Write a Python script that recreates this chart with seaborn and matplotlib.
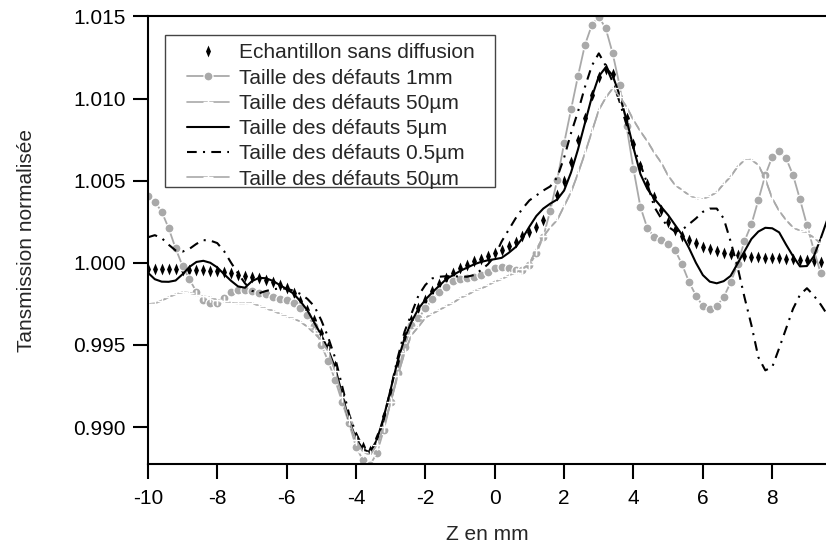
import matplotlib
matplotlib.use("Agg")
import matplotlib.pyplot as plt
from matplotlib.patches import Rectangle
import seaborn as sns

# scan positions (mm), 0.2 mm step
z_mm = [
    -10.0, -9.8, -9.6, -9.4, -9.2, -9.0, -8.8, -8.6, -8.4, -8.2,
    -8.0, -7.8, -7.6, -7.4, -7.2, -7.0, -6.8, -6.6, -6.4, -6.2,
    -6.0, -5.8, -5.6, -5.4, -5.2, -5.0, -4.8, -4.6, -4.4, -4.2,
    -4.0, -3.8, -3.6, -3.4, -3.2, -3.0, -2.8, -2.6, -2.4, -2.2,
    -2.0, -1.8, -1.6, -1.4, -1.2, -1.0, -0.8, -0.6, -0.4, -0.2,
    0.0, 0.2, 0.4, 0.6, 0.8, 1.0, 1.2, 1.4, 1.6, 1.8,
    2.0, 2.2, 2.4, 2.6, 2.8, 3.0, 3.2, 3.4, 3.6, 3.8,
    4.0, 4.2, 4.4, 4.6, 4.8, 5.0, 5.2, 5.4, 5.6, 5.8,
    6.0, 6.2, 6.4, 6.6, 6.8, 7.0, 7.2, 7.4, 7.6, 7.8,
    8.0, 8.2, 8.4, 8.6, 8.8, 9.0, 9.2, 9.4,
]
z_mm_lines = z_mm + [9.6]

sans_diffusion = [
    0.99960, 0.99960, 0.99960, 0.99960, 0.99960, 0.99959, 0.99958, 0.99957, 0.99955, 0.99952,
    0.99948, 0.99943, 0.99935, 0.99926, 0.99920, 0.99915, 0.99905, 0.99895, 0.99883, 0.99867,
    0.99848, 0.99815, 0.99768, 0.99710, 0.99650, 0.99575, 0.99490, 0.99370, 0.99195, 0.99045,
    0.98940, 0.98880, 0.98855, 0.98935, 0.99070, 0.99215, 0.99390, 0.99545, 0.99650, 0.99725,
    0.99775, 0.99830, 0.99870, 0.99910, 0.99940, 0.99966, 0.99988, 1.00008, 1.00025, 1.00042,
    1.00060, 1.00078, 1.00100, 1.00125, 1.00160, 1.00190, 1.00220, 1.00260, 1.00320, 1.00415,
    1.00495, 1.00615, 1.00750, 1.00880, 1.01020, 1.01130, 1.01178, 1.01150, 1.01010, 1.00880,
    1.00725, 1.00590, 1.00480, 1.00400, 1.00320, 1.00250, 1.00200, 1.00165, 1.00140, 1.00118,
    1.00097, 1.00083, 1.00070, 1.00060, 1.00052, 1.00045, 1.00040, 1.00037, 1.00034, 1.00032,
    1.00030, 1.00027, 1.00024, 1.00021, 1.00018, 1.00015, 1.00010, 1.00006,
]

defauts_1mm = [
    1.00408, 1.00372, 1.00311, 1.00210, 1.00088, 0.99980, 0.99899, 0.99823, 0.99773, 0.99753,
    0.99756, 0.99783, 0.99823, 0.99834, 0.99834, 0.99828, 0.99814, 0.99809, 0.99789, 0.99779,
    0.99773, 0.99753, 0.99722, 0.99682, 0.99615, 0.99500, 0.99400, 0.99286, 0.99153, 0.99022,
    0.98880, 0.98798, 0.98768, 0.98839, 0.98981, 0.99153, 0.99326, 0.99488, 0.99620, 0.99661,
    0.99722, 0.99777, 0.99823, 0.99855, 0.99892, 0.99902, 0.99905, 0.99915, 0.99926, 0.99946,
    0.99966, 0.99972, 0.99970, 0.99956, 0.99956, 0.99986, 1.00057, 1.00158, 1.00317, 1.00504,
    1.00727, 1.00934, 1.01137, 1.01326, 1.01448, 1.01498, 1.01427, 1.01275, 1.01080, 1.00830,
    1.00570, 1.00340, 1.00210, 1.00158, 1.00138, 1.00115, 1.00077, 0.99990, 0.99884, 0.99800,
    0.99737, 0.99719, 0.99737, 0.99790, 0.99880, 0.99990, 1.00132, 1.00234, 1.00382, 1.00534,
    1.00645, 1.00680, 1.00636, 1.00534, 1.00386, 1.00230, 1.00077, 0.99935,
]

defauts_50um = [
    0.99749, 0.99752, 0.99770, 0.99790, 0.99808, 0.99820, 0.99817, 0.99805, 0.99795, 0.99790,
    0.99773, 0.99765, 0.99756, 0.99753, 0.99753, 0.99755, 0.99738, 0.99722, 0.99708, 0.99690,
    0.99673, 0.99661, 0.99641, 0.99610, 0.99570, 0.99530, 0.99460, 0.99340, 0.99180, 0.99040,
    0.98920, 0.98850, 0.98829, 0.98890, 0.99000, 0.99150, 0.99310, 0.99450, 0.99560, 0.99610,
    0.99665, 0.99690, 0.99712, 0.99736, 0.99756, 0.99785, 0.99803, 0.99827, 0.99842, 0.99862,
    0.99885, 0.99900, 0.99922, 0.99940, 0.99962, 0.99995, 1.00080, 1.00160, 1.00215, 1.00260,
    1.00345, 1.00430, 1.00544, 1.00666, 1.00798, 1.00930, 1.01005, 1.01062, 1.01011, 1.00950,
    1.00869, 1.00800, 1.00740, 1.00670, 1.00610, 1.00530, 1.00473, 1.00443, 1.00412, 1.00392,
    1.00388, 1.00405, 1.00430, 1.00480, 1.00524, 1.00585, 1.00625, 1.00628, 1.00595, 1.00510,
    1.00392, 1.00316, 1.00260, 1.00215, 1.00195, 1.00182, 1.00153, 1.00118,
]

defauts_5um = [
    0.99940, 0.99900, 0.99885, 0.99884, 0.99892, 0.99930, 0.99975, 1.00005, 1.00012, 1.00000,
    0.99972, 0.99930, 0.99890, 0.99856, 0.99848, 0.99888, 0.99908, 0.99906, 0.99890, 0.99865,
    0.99840, 0.99812, 0.99765, 0.99710, 0.99635, 0.99560, 0.99470, 0.99360, 0.99200, 0.99040,
    0.98930, 0.98865, 0.98845, 0.98920, 0.99060, 0.99230, 0.99400, 0.99540, 0.99640, 0.99720,
    0.99775, 0.99820, 0.99860, 0.99900, 0.99925, 0.99950, 0.99970, 0.99990, 1.00005, 1.00015,
    1.00022, 1.00030, 1.00060, 1.00095, 1.00150, 1.00220, 1.00285, 1.00330, 1.00360, 1.00385,
    1.00440, 1.00550, 1.00690, 1.00850, 1.01010, 1.01135, 1.01190, 1.01140, 1.01020, 1.00870,
    1.00700, 1.00540, 1.00450, 1.00390, 1.00340, 1.00290, 1.00230, 1.00170, 1.00090, 1.00000,
    0.99925, 0.99885, 0.99875, 0.99888, 0.99920, 0.99995, 1.00070, 1.00145, 1.00190, 1.00213,
    1.00210, 1.00185, 1.00110, 1.00040, 0.99978, 0.99980, 1.00040, 1.00150, 1.00270,
]

defauts_05um = [
    1.00155, 1.00168, 1.00150, 1.00110, 1.00075, 1.00068, 1.00085, 1.00115, 1.00138, 1.00135,
    1.00120, 1.00070, 1.00000, 0.99935, 0.99875, 0.99830, 0.99814, 0.99828, 0.99838, 0.99844,
    0.99842, 0.99830, 0.99810, 0.99780, 0.99735, 0.99650, 0.99545, 0.99420, 0.99250, 0.99080,
    0.98960, 0.98880, 0.98850, 0.98910, 0.99050, 0.99230, 0.99420, 0.99580, 0.99690, 0.99800,
    0.99865, 0.99905, 0.99915, 0.99918, 0.99918, 0.99916, 0.99915, 0.99925, 0.99955, 0.99990,
    1.00040, 1.00130, 1.00200, 1.00270, 1.00330, 1.00380, 1.00410, 1.00440, 1.00465, 1.00520,
    1.00640, 1.00790, 1.00920, 1.01070, 1.01200, 1.01275, 1.01200, 1.01100, 1.00980, 1.00840,
    1.00700, 1.00600, 1.00480, 1.00340, 1.00270, 1.00220, 1.00190, 1.00200, 1.00235, 1.00270,
    1.00310, 1.00330, 1.00330, 1.00270, 1.00130, 0.99975, 0.99790, 0.99620, 0.99425, 0.99345,
    0.99365, 0.99480, 0.99600, 0.99720, 0.99805, 0.99845, 0.99800, 0.99745, 0.99680,
]

x_ticks = [-10, -8, -6, -4, -2, 0, 2, 4, 6, 8]
y_ticks = [0.990, 0.995, 1.000, 1.005, 1.010, 1.015]

sns.set_style("ticks")
plt.rcParams.update({
    "font.family": ["Liberation Sans", "DejaVu Sans"],
    "font.size": 15,
    "lines.scale_dashes": False,
})

gray = "#a9a9a9"
thin_diamond = [(0, 1), (0.42, 0), (0, -1), (-0.42, 0), (0, 1)]

fig = plt.figure(figsize=(8.26, 5.49), dpi=100)
ax = fig.add_axes([0.179, 0.1543, 0.821, 0.8158])

sns.lineplot(x=z_mm, y=sans_diffusion, ax=ax, estimator=None, sort=False,
             color="black", linestyle="none", marker=thin_diamond,
             markersize=8.5, markeredgewidth=0, label="Echantillon sans diffusion")
sns.lineplot(x=z_mm, y=defauts_1mm, ax=ax, estimator=None, sort=False,
             color=gray, linewidth=1.3, marker="o", markersize=6.5,
             markeredgecolor="white", markeredgewidth=0.9,
             label="Taille des défauts 1mm")
sns.lineplot(x=z_mm, y=defauts_50um, ax=ax, estimator=None, sort=False,
             color=gray, linewidth=1.2, marker="+", markersize=7.5,
             markeredgewidth=1.0, label="Taille des défauts 50µm")
sns.lineplot(x=z_mm_lines, y=defauts_5um, ax=ax, estimator=None, sort=False,
             color="black", linewidth=1.5, label="Taille des défauts 5µm")
sns.lineplot(x=z_mm_lines, y=defauts_05um, ax=ax, estimator=None, sort=False,
             color="black", linewidth=1.5, linestyle=(0, (7, 4.5, 1.5, 4.5)),
             label="Taille des défauts 0.5µm")
sns.lineplot(x=z_mm, y=defauts_50um, ax=ax, estimator=None, sort=False,
             color=gray, linewidth=1.2, marker="+", markersize=7.5,
             markeredgewidth=1.0, label="Taille des défauts 50µm")

ax.set_xlim(-10, 9.55)
ax.set_ylim(0.98773, 1.015)
ax.set_xticks(x_ticks)
ax.set_yticks(y_ticks)
ax.set_xticklabels([str(t) for t in x_ticks])
ax.set_yticklabels([f"{t:.3f}" for t in y_ticks])

for side in ["left", "bottom", "top"]:
    ax.spines[side].set_linewidth(1.5)
    ax.spines[side].set_color("black")
ax.spines["right"].set_visible(False)
ax.tick_params(axis="both", direction="out", length=11, width=1.5,
               labelsize=15, colors="black")
ax.tick_params(axis="x", pad=7)
ax.tick_params(axis="y", pad=5)

ax.set_xlabel("Z en mm", fontsize=15)
ax.set_ylabel("Tansmission normalisée", fontsize=15)
ax.xaxis.set_label_coords(0.5, -0.135)
ax.yaxis.set_label_coords(-0.165, 0.5)

# legend box drawn separately (wider left margin than matplotlib's pad)
ax.add_patch(Rectangle((0.0252, 0.6191), 0.4867, 0.3394, transform=ax.transAxes,
                       facecolor="white", edgecolor="#444444", linewidth=1.0,
                       zorder=4))
leg = ax.legend(loc="upper left", bbox_to_anchor=(0.0577, 0.9397),
                borderaxespad=0, frameon=False, fontsize=15,
                handlelength=2.0, handletextpad=0.5,
                labelspacing=0.3, borderpad=0, numpoints=1)
leg.set_zorder(5)

fig.savefig("out.png", dpi=100)
